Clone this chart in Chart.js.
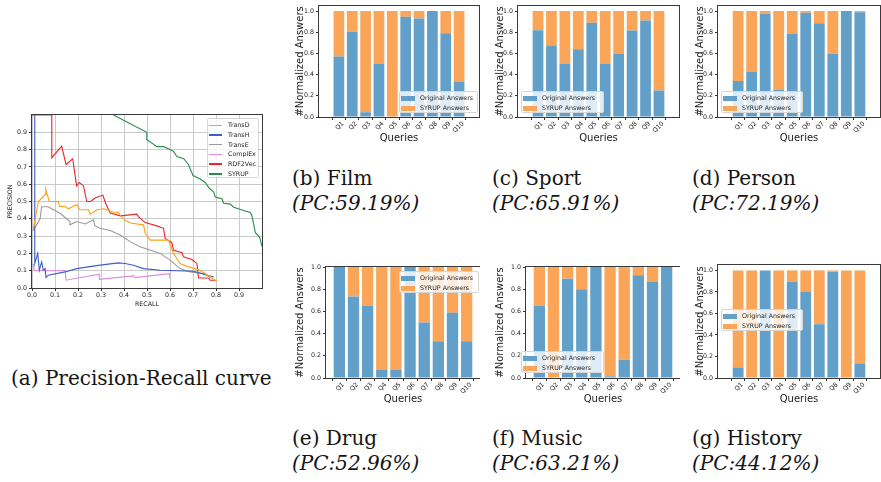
<!DOCTYPE html>
<html>
<head>
<meta charset="utf-8">
<script src="https://cdn.jsdelivr.net/npm/chart.js@4.4.1/dist/chart.umd.min.js"></script>
<style>
  body { margin: 0; background: #fff; width: 881px; height: 482px; position: relative; overflow: hidden; font-family: "DejaVu Sans"; }
  canvas { position: absolute; }
  .cap { position: absolute; font-family: "DejaVu Serif"; font-size: 20px; line-height: 25px; color: #151515; white-space: nowrap; }
  .leg { position: absolute; background: rgba(255, 255, 255, 0.8); border: 1px solid #d6d6d6; border-radius: 2px; font-size: 6.3px; color: #222; box-sizing: border-box; }
  .leg div { position: absolute; }
  .leg span { position: absolute; white-space: nowrap; line-height: 8px; }
</style>
</head>
<body>

<canvas id="pr" width="280" height="215" style="left:0;top:100px"></canvas>
<canvas id="film" width="200" height="150" style="left:280px;top:0"></canvas>
<canvas id="sport" width="200" height="150" style="left:480px;top:0"></canvas>
<canvas id="person" width="201" height="150" style="left:680px;top:0"></canvas>
<canvas id="drug" width="200" height="161" style="left:280px;top:250px"></canvas>
<canvas id="music" width="200" height="161" style="left:480px;top:250px"></canvas>
<canvas id="history" width="201" height="161" style="left:680px;top:250px"></canvas>

<div class="cap" style="left:11px;top:366px">(a) Precision-Recall curve</div>
<div class="cap" style="left:292px;top:166px">(b) Film<br><i>(PC:59.19%)</i></div>
<div class="cap" style="left:492px;top:166px">(c) Sport<br><i>(PC:65.91%)</i></div>
<div class="cap" style="left:692px;top:166px">(d) Person<br><i>(PC:72.19%)</i></div>
<div class="cap" style="left:292px;top:426px">(e) Drug<br><i>(PC:52.96%)</i></div>
<div class="cap" style="left:492px;top:426px">(f) Music<br><i>(PC:63.21%)</i></div>
<div class="cap" style="left:692px;top:426px">(g) History<br><i>(PC:44.12%)</i></div>

<script>
// precision-recall curves, [recall, precision]
const transD = [[0.005,0.335],[0.028,0.50],[0.057,0.54],[0.06,0.57],[0.075,0.50],[0.115,0.50],[0.119,0.471],[0.144,0.471],[0.158,0.458],[0.194,0.481],[0.209,0.452],[0.245,0.452],[0.253,0.427],[0.282,0.452],[0.311,0.458],[0.354,0.438],[0.376,0.438],[0.383,0.423],[0.405,0.39],[0.434,0.374],[0.485,0.365],[0.492,0.316],[0.514,0.277],[0.594,0.277],[0.615,0.20],[0.644,0.142],[0.681,0.122],[0.731,0.103],[0.775,0.064],[0.804,0.039]];
const transH = [[0.012,1.0],[0.012,0.142],[0.025,0.20],[0.032,0.103],[0.042,0.151],[0.049,0.103],[0.057,0.112],[0.061,0.06],[0.071,0.074],[0.144,0.093],[0.194,0.112],[0.296,0.132],[0.376,0.145],[0.405,0.142],[0.441,0.132],[0.485,0.112],[0.557,0.103],[0.702,0.097],[0.79,0.064]];
const transE = [[0.005,0.33],[0.035,0.40],[0.042,0.47],[0.07,0.47],[0.122,0.432],[0.165,0.384],[0.165,0.365],[0.194,0.384],[0.231,0.37],[0.267,0.394],[0.274,0.359],[0.296,0.345],[0.34,0.332],[0.383,0.306],[0.427,0.268],[0.47,0.239],[0.557,0.20],[0.60,0.161],[0.644,0.112],[0.688,0.093],[0.746,0.083],[0.775,0.064]];
const complEx = [[0.006,0.14],[0.01,0.10],[0.144,0.10],[0.148,0.045],[0.293,0.08],[0.293,0.05],[0.441,0.07],[0.448,0.06],[0.598,0.083],[0.60,0.054]];
const rdf2vec = [[0.0,1.0],[0.086,1.0],[0.086,0.753],[0.129,0.82],[0.148,0.714],[0.177,0.747],[0.194,0.59],[0.206,0.61],[0.224,0.59],[0.238,0.50],[0.255,0.50],[0.274,0.52],[0.308,0.537],[0.32,0.49],[0.34,0.433],[0.384,0.417],[0.456,0.427],[0.463,0.413],[0.492,0.378],[0.543,0.359],[0.572,0.345],[0.579,0.287],[0.608,0.262],[0.615,0.219],[0.652,0.204],[0.659,0.18],[0.695,0.165],[0.717,0.142],[0.724,0.058],[0.768,0.058],[0.775,0.045],[0.797,0.045]];
const syrup = [[0.354,1.0],[0.499,0.90],[0.499,0.859],[0.543,0.817],[0.572,0.817],[0.60,0.80],[0.615,0.79],[0.63,0.76],[0.66,0.747],[0.68,0.714],[0.70,0.65],[0.731,0.63],[0.753,0.61],[0.77,0.578],[0.79,0.555],[0.797,0.526],[0.826,0.516],[0.833,0.49],[0.862,0.485],[0.877,0.467],[0.92,0.448],[0.949,0.436],[0.956,0.419],[0.971,0.32],[0.99,0.293],[1.0,0.24]];
const prNames = ['TransD', 'TransH', 'TransE', 'ComplEx', 'RDF2Vec', 'SYRUP'];
const prColors = ['#ffa20f', '#3d5cc9', '#9a9a9a', '#df8ae0', '#e82628', '#2a8c4e'];
const prTicks = [0, 0.1, 0.2, 0.3, 0.4, 0.5, 0.6, 0.7, 0.8, 0.9];

// share of original answers per query (SYRUP share is the rest)
const queries = ['Q1', 'Q2', 'Q3', 'Q4', 'Q5', 'Q6', 'Q7', 'Q8', 'Q9', 'Q10'];
const filmOrig = [0.572, 0.806, 0.044, 0.50, 0.0, 0.947, 0.93, 1.0, 0.79, 0.33];
const sportOrig = [0.82, 0.67, 0.50, 0.64, 0.89, 0.50, 0.60, 0.816, 0.91, 0.25];
const personOrig = [0.34, 0.425, 0.975, 0.256, 0.784, 0.984, 0.884, 0.597, 1.0, 0.99];
const drugOrig = [1.0, 0.735, 0.654, 0.075, 0.075, 1.0, 0.50, 0.331, 0.587, 0.331];
const musicOrig = [0.654, 0.0, 0.895, 0.80, 1.0, 0.015, 0.166, 0.925, 0.864, 1.0];
const historyOrig = [0.094, 0.0, 1.0, 0.005, 0.894, 0.803, 0.50, 0.988, 0.0, 0.131];
const yTicks = [0, 0.2, 0.4, 0.6, 0.8, 1.0];

const blue = 'rgb(98, 160, 202)';
const orange = 'rgb(250, 165, 88)';
const tickFont = { family: 'DejaVu Sans', size: 6.3 };

// plain dark frame round the plot area, like matplotlib spines
const frame = {
    id: 'frame',
    afterDraw(chart) {
        const a = chart.chartArea;
        const ctx = chart.ctx;
        ctx.save();
        ctx.strokeStyle = '#3a3a3a';
        ctx.lineWidth = 1;
        ctx.strokeRect(Math.round(a.left) - 0.5, Math.round(a.top) - 0.5, Math.round(a.right - a.left) + 1, Math.round(a.bottom - a.top) + 1);
        ctx.restore();
    }
};

function legendBox(x, y, w, h, items, rowTop, rowStep, line) {
    const box = document.createElement('div');
    box.className = 'leg';
    box.style.cssText = `left:${x}px;top:${y}px;width:${w}px;height:${h}px`;
    items.forEach((it, i) => {
        const cy = rowTop + i * rowStep;
        const mark = document.createElement('div');
        if (line) {
            mark.style.cssText = `left:1px;top:${cy - 0.75}px;width:13px;height:1.5px;background:${it.color}`;
        } else {
            mark.style.cssText = `left:1px;top:${cy - 2.5}px;width:14px;height:5px;background:${it.color}`;
        }
        const txt = document.createElement('span');
        txt.textContent = it.label;
        txt.style.cssText = `left:20px;top:${cy - 4}px`;
        box.appendChild(mark);
        box.appendChild(txt);
    });
    document.body.appendChild(box);
}

function renderPR() {
    const series = [transD, transH, transE, complEx, rdf2vec, syrup];
    new Chart(document.getElementById('pr'), {
        type: 'line',
        data: {
            datasets: series.map((s, i) => ({
                label: prNames[i],
                data: s.map(p => ({ x: p[0], y: p[1] })),
                borderColor: prColors[i],
                borderWidth: 1.1,
                pointRadius: 0,
                tension: 0
            }))
        },
        options: {
            responsive: false,
            animation: false,
            events: [],
            layout: { padding: { left: 0, right: 18, top: 15, bottom: 0 } },
            plugins: { legend: { display: false }, tooltip: { enabled: false } },
            scales: {
                x: {
                    type: 'linear', min: 0, max: 1,
                    afterBuildTicks: s => { s.ticks = prTicks.map(v => ({ value: v })); },
                    afterFit: s => { s.height = 27; },
                    ticks: { font: tickFont, color: '#222', padding: 1, maxRotation: 0, callback: v => v.toFixed(1) },
                    grid: { color: '#c9c9c9', lineWidth: 1, tickLength: 3, tickColor: '#333' },
                    border: { display: false },
                    title: { display: true, text: 'RECALL', font: tickFont, color: '#222', padding: { top: 0, bottom: 7 } }
                },
                y: {
                    type: 'linear', min: 0, max: 1,
                    afterBuildTicks: s => { s.ticks = prTicks.map(v => ({ value: v })); },
                    afterFit: s => { s.width = 32; },
                    ticks: { font: tickFont, color: '#222', padding: 2, callback: v => v.toFixed(1) },
                    grid: { color: '#c9c9c9', lineWidth: 1, tickLength: 3, tickColor: '#333' },
                    border: { display: false },
                    title: { display: true, text: 'PRECISION', font: tickFont, color: '#222', padding: { top: 6.5, bottom: 0 } }
                }
            }
        },
        plugins: [frame]
    });
    legendBox(207, 118, 52, 60, prNames.map((n, i) => ({ label: n, color: prColors[i] })), 6.3, 9.7, true);
}

function renderBars(id, orig, o) {
    const rest = orig.map(v => 1 - v);
    new Chart(document.getElementById(id), {
        type: 'bar',
        data: {
            datasets: [
                { label: 'Original Answers', data: orig.map((v, i) => ({ x: i, y: v })), backgroundColor: blue },
                { label: 'SYRUP Answers', data: rest.map((v, i) => ({ x: i, y: v })), backgroundColor: orange }
            ]
        },
        options: {
            responsive: false,
            animation: false,
            events: [],
            barPercentage: 0.8,
            categoryPercentage: 1,
            layout: { padding: { left: 0, right: o.right, top: o.top, bottom: 0 } },
            plugins: { legend: { display: false }, tooltip: { enabled: false } },
            scales: {
                x: {
                    type: 'linear', stacked: true, min: o.xmin, max: o.xmax,
                    afterBuildTicks: s => { s.ticks = queries.map((q, i) => ({ value: i })); },
                    afterFit: s => { s.height = o.xh; },
                    ticks: { font: tickFont, color: '#222', padding: 0, labelOffset: 4, autoSkip: false, minRotation: 45, maxRotation: 45, callback: v => queries[v] },
                    grid: { drawOnChartArea: false, tickLength: 3, color: '#333' },
                    border: { display: false },
                    title: { display: true, text: 'Queries', font: { family: 'DejaVu Sans', size: 10 }, color: '#222', padding: { top: 0, bottom: o.tb } }
                },
                y: {
                    type: 'linear', stacked: true, min: 0, max: o.ymax,
                    afterBuildTicks: s => { s.ticks = yTicks.map(v => ({ value: v })); },
                    afterFit: s => { s.width = o.yw; },
                    ticks: { font: tickFont, color: '#222', padding: 2, callback: v => v.toFixed(1) },
                    grid: { drawOnChartArea: false, tickLength: 3, color: '#333' },
                    border: { display: false },
                    title: { display: true, text: '#Normalized Answers', font: { family: 'DejaVu Sans', size: 10 }, color: '#222', padding: { top: o.tl, bottom: 0 } }
                }
            }
        },
        plugins: [frame]
    });
    legendBox(o.lx, o.ly, o.lw, 22, [{ label: 'Original Answers', color: blue }, { label: 'SYRUP Answers', color: orange }], 6, 10, false);
}

renderPR();
const wide = { xmin: -0.89, xmax: 9.89, ymax: 1.05 };
const tight = { xmin: -0.4, xmax: 9.4, ymax: 1.0 };
renderBars('film', filmOrig, { ...wide, yw: 39, xh: 33, top: 4, right: 1, tb: 6, tl: 14, lx: 399, ly: 91, lw: 79 });
renderBars('sport', sportOrig, { ...wide, yw: 38, xh: 33, top: 4, right: 1, tb: 6, tl: 14, lx: 521, ly: 91, lw: 83 });
renderBars('person', personOrig, { ...wide, yw: 38, xh: 33, top: 4, right: 1, tb: 6, tl: 14, lx: 721, ly: 91, lw: 82 });
renderBars('drug', drugOrig, { ...tight, yw: 46, xh: 33, top: 17, right: 0, tb: 6, tl: 14, lx: 399, ly: 271, lw: 80 });
renderBars('music', musicOrig, { ...tight, yw: 46, xh: 33, top: 17, right: 0, tb: 6, tl: 14, lx: 521, ly: 351, lw: 83 });
renderBars('history', historyOrig, { ...wide, yw: 38, xh: 33, top: 15, right: 1, tb: 6, tl: 14, lx: 721, ly: 309, lw: 82 });
</script>
</body>
</html>
